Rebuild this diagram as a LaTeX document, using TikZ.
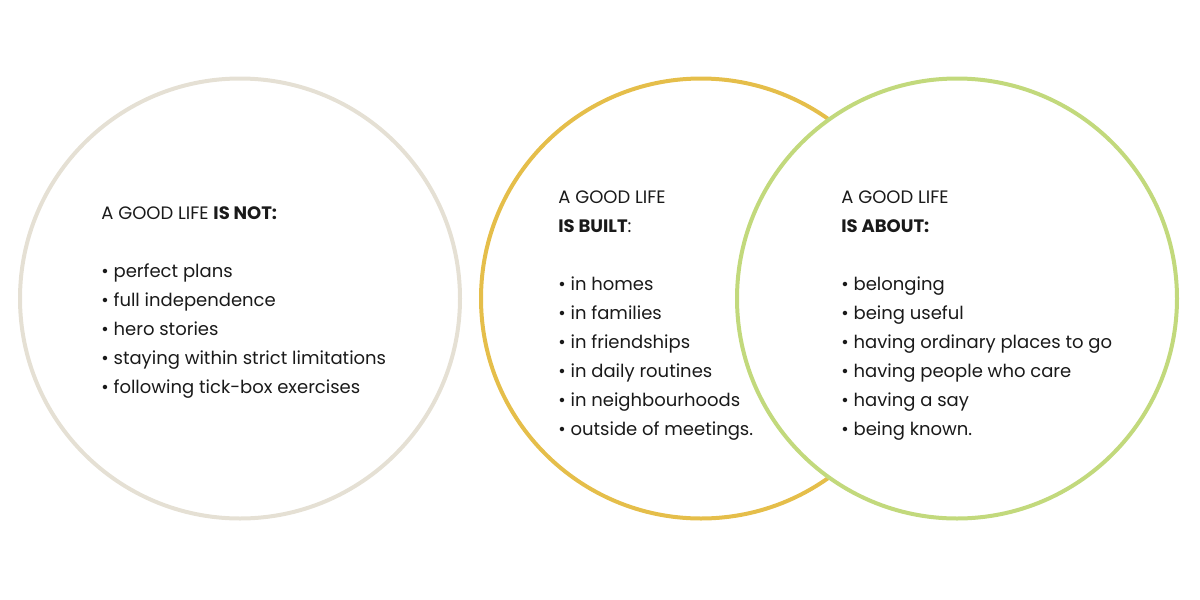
\documentclass[tikz,border=0pt]{standalone}
\usepackage{fontspec}
\setmainfont{Poppins}
\usetikzlibrary{positioning}
\definecolor{Sand}{HTML}{E5E0D4}
\definecolor{Mustard}{HTML}{E5BE4A}
\definecolor{Lime}{HTML}{C2D97C}
\definecolor{Ink}{HTML}{1A1A1A}
\tikzset{
 ring/.style={circle,line width=2pt,minimum size=220pt,inner sep=0pt},
 notes/.style={align=left,anchor=north west,inner sep=0pt,text=Ink,
   font=\fontsize{9}{14.5}\selectfont}
}
\begin{document}
\begin{tikzpicture}[x=0.5pt,y=-0.5pt]
\useasboundingbox (0,0) rectangle (1200,600);
\node[ring,draw=Sand] (notring) at (240,298.5) {};
\node[ring,draw=Mustard] (builtring) at (701,298.5) {};
\node[ring,draw=Lime,fill=white] (aboutring) at (957,298.5) {};
\node[notes] (nottext) at (101,206) {A GOOD LIFE \textbf{IS NOT:}\\[14.5pt]
 • perfect plans\\ • full independence\\ • hero stories\\
 • staying within strict limitations\\ • following tick-box exercises};
\node[notes] (builttext) at (558,190) {A GOOD LIFE\\ \textbf{IS BUILT}:\\[14.5pt]
 • in homes\\ • in families\\ • in friendships\\ • in daily routines\\
 • in neighbourhoods\\ • outside of meetings.};
\node[notes] (abouttext) at (841,190) {A GOOD LIFE\\ \textbf{IS ABOUT:}\\[14.5pt]
 • belonging\\ • being useful\\ • having ordinary places to go\\
 • having people who care\\ • having a say\\ • being known.};
\end{tikzpicture}
\end{document}
